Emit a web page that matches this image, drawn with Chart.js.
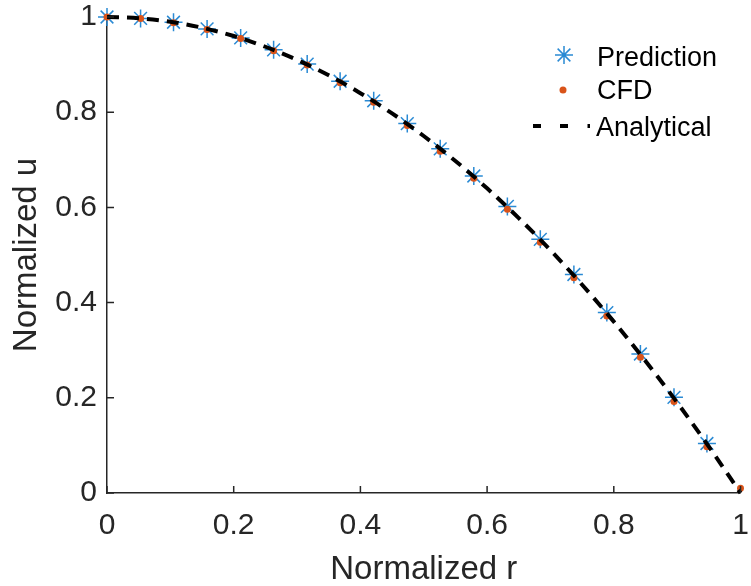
<!DOCTYPE html>
<html>
<head>
<meta charset="utf-8">
<script src="https://cdn.jsdelivr.net/npm/chart.js@4.4.1/dist/chart.umd.min.js"></script>
<style>
  html, body { margin: 0; padding: 0; background: #ffffff; }
  #wrap { width: 751px; height: 586px; }
</style>
</head>
<body>
<div id="wrap"><canvas id="c" width="751" height="586"></canvas></div>
<script>
// ---- data ----
const predR = [0, 0.053, 0.105, 0.158, 0.211, 0.263, 0.316, 0.368, 0.421, 0.474, 0.526, 0.579, 0.632, 0.684, 0.737, 0.789, 0.842, 0.895, 0.947];
const predU = [1.000, 0.997, 0.989, 0.975, 0.956, 0.931, 0.901, 0.865, 0.824, 0.776, 0.723, 0.666, 0.602, 0.533, 0.459, 0.379, 0.292, 0.201, 0.104];
const cfdR  = [0, 0.053, 0.105, 0.158, 0.211, 0.263, 0.316, 0.368, 0.421, 0.474, 0.526, 0.579, 0.632, 0.684, 0.737, 0.789, 0.842, 0.895, 0.947, 1.000];
const cfdU  = [1.000, 0.997, 0.988, 0.974, 0.955, 0.929, 0.899, 0.862, 0.821, 0.772, 0.718, 0.661, 0.596, 0.527, 0.452, 0.372, 0.285, 0.192, 0.097, 0.010];
const anaR  = [0, 0.05, 0.10, 0.15, 0.20, 0.25, 0.30, 0.35, 0.40, 0.45, 0.50, 0.55, 0.60, 0.65, 0.70, 0.75, 0.80, 0.85, 0.90, 0.95, 1.00];
const anaU  = [1.000, 0.9975, 0.990, 0.9775, 0.960, 0.9375, 0.910, 0.8775, 0.840, 0.7975, 0.750, 0.6975, 0.640, 0.5775, 0.510, 0.4375, 0.360, 0.2775, 0.190, 0.0975, 0.000];
const xTicks = [0, 0.2, 0.4, 0.6, 0.8, 1];
const yTicks = [0, 0.2, 0.4, 0.6, 0.8, 1];
const seriesNames = ['Prediction', 'CFD', 'Analytical'];
const xTitle = 'Normalized r';
const yTitle = 'Normalized u';

const AXIS = '#262626';
const BLUE = '#2a8ad4';
const ORANGE = '#d95319';
const FONT = "'Liberation Sans', Arial, Helvetica, sans-serif";

const pts = (xs, ys) => xs.map((x, i) => ({ x: x, y: ys[i] }));
const noPad = s => { s.paddingTop = 0; s.paddingBottom = 0; s.paddingLeft = 0; s.paddingRight = 0; };

const innerTicks = {
  id: 'innerTicks',
  afterDraw(chart) {
    const ctx = chart.ctx, a = chart.chartArea;
    const xs = chart.scales.x, ys = chart.scales.y;
    ctx.save();
    ctx.strokeStyle = AXIS;
    ctx.lineWidth = 1.5;
    ctx.beginPath();
    xTicks.forEach(v => { const p = xs.getPixelForValue(v); ctx.moveTo(p, a.bottom); ctx.lineTo(p, a.bottom - 7); });
    yTicks.forEach(v => { const p = ys.getPixelForValue(v); ctx.moveTo(a.left, p); ctx.lineTo(a.left + 7, p); });
    ctx.stroke();
    ctx.restore();
  }
};

const legendPlugin = {
  id: 'customLegend',
  afterDraw(chart) {
    const ctx = chart.ctx;
    ctx.save();
    // Prediction star
    ctx.strokeStyle = BLUE; ctx.lineWidth = 1.5;
    const sx = 564, sy = 55, r = 9, d = r * Math.SQRT1_2;
    ctx.beginPath();
    ctx.moveTo(sx - r, sy); ctx.lineTo(sx + r, sy);
    ctx.moveTo(sx, sy - r); ctx.lineTo(sx, sy + r);
    ctx.moveTo(sx - d, sy - d); ctx.lineTo(sx + d, sy + d);
    ctx.moveTo(sx - d, sy + d); ctx.lineTo(sx + d, sy - d);
    ctx.stroke();
    // CFD dot
    ctx.fillStyle = ORANGE;
    ctx.beginPath(); ctx.arc(563, 90, 3.5, 0, Math.PI * 2); ctx.fill();
    // Analytical dashes
    ctx.strokeStyle = '#000'; ctx.lineWidth = 4;
    ctx.beginPath();
    ctx.moveTo(533, 126); ctx.lineTo(541, 126);
    ctx.moveTo(560, 126); ctx.lineTo(568, 126);
    ctx.moveTo(587.5, 126); ctx.lineTo(590, 126);
    ctx.stroke();
    // texts
    ctx.fillStyle = '#000';
    ctx.font = '27px ' + FONT;
    ctx.textAlign = 'left';
    ctx.textBaseline = 'alphabetic';
    ctx.fillText(seriesNames[0], 597, 66);
    ctx.fillText(seriesNames[1], 597, 99);
    ctx.fillText(seriesNames[2], 596, 136);
    ctx.restore();
  }
};

new Chart(document.getElementById('c'), {
  type: 'scatter',
  data: {
    datasets: [
      {
        label: seriesNames[0],
        data: pts(predR, predU),
        showLine: false,
        clip: false,
        pointStyle: 'star',
        pointRadius: 9,
        pointHoverRadius: 9,
        borderColor: BLUE,
        backgroundColor: BLUE,
        pointBorderWidth: 1.5,
        order: 2
      },
      {
        label: seriesNames[1],
        data: pts(cfdR, cfdU),
        showLine: false,
        clip: false,
        pointStyle: 'circle',
        pointRadius: 3.5,
        pointHoverRadius: 3.5,
        borderColor: ORANGE,
        backgroundColor: ORANGE,
        pointBorderWidth: 0,
        order: 1
      },
      {
        label: seriesNames[2],
        data: pts(anaR, anaU),
        showLine: true,
        clip: false,
        pointRadius: 0,
        borderColor: '#000000',
        borderWidth: 4,
        borderDash: [12, 8],
        cubicInterpolationMode: 'monotone',
        fill: false,
        order: 0
      }
    ]
  },
  options: {
    responsive: false,
    animation: false,
    events: [],
    layout: { padding: { top: 17, right: 7, left: 0, bottom: 0 } },
    plugins: { legend: { display: false }, tooltip: { enabled: false } },
    scales: {
      x: {
        type: 'linear', min: 0, max: 1,
        afterBuildTicks: s => { s.ticks = xTicks.map(v => ({ value: v })); },
        afterFit: s => { s.height = 93; noPad(s); },
        grid: { display: false, drawTicks: false },
        border: { display: true, color: AXIS, width: 1.5 },
        ticks: { color: AXIS, font: { family: FONT, size: 30 }, padding: 15, maxRotation: 0, autoSkip: false, callback: v => String(v) },
        title: { display: true, text: xTitle, color: AXIS, font: { family: FONT, size: 33, lineHeight: 1.0 }, padding: { top: 0, bottom: 0 } }
      },
      y: {
        type: 'linear', min: 0, max: 1,
        afterBuildTicks: s => { s.ticks = yTicks.map(v => ({ value: v })); },
        afterFit: s => { s.width = 107; noPad(s); },
        grid: { display: false, drawTicks: false },
        border: { display: true, color: AXIS, width: 1.5 },
        ticks: { color: AXIS, font: { family: FONT, size: 30 }, padding: 10, autoSkip: false, callback: v => String(v) },
        title: { display: true, text: yTitle, color: AXIS, font: { family: FONT, size: 33 }, padding: { top: 7, bottom: 0 } }
      }
    }
  },
  plugins: [innerTicks, legendPlugin]
});
</script>
</body>
</html>
